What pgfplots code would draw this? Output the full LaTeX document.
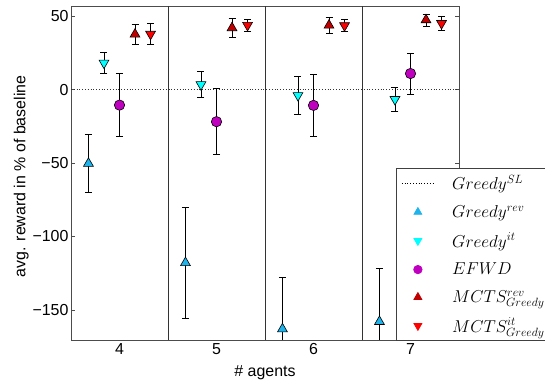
\documentclass[border=0pt]{standalone}
\usepackage{fontspec}
\setmainfont{Liberation Sans}
\usepackage{pgfplots}
\pgfplotsset{compat=1.18}
\definecolor{crev}{RGB}{30,180,235}
\definecolor{cit}{RGB}{0,255,255}
\definecolor{cefwd}{RGB}{191,0,191}
\definecolor{cmrev}{RGB}{192,0,0}
\definecolor{cmit}{RGB}{255,0,0}
\begin{document}
\begin{tikzpicture}
\path[use as bounding box] (0,0) rectangle (545bp,383bp);
\begin{axis}[
  at={(71bp,43bp)}, anchor=south west,
  scale only axis, width=388bp, height=334bp,
  xmin=-0.5, xmax=3.5, ymin=-170.5, ymax=57,
  xtick={0,1,2,3}, xticklabels={4,5,6,7},
  ytick={-150,-100,-50,0,50}, yticklabels={−150,−100,−50,0,50},
  major x tick style={draw=none},
  tick align=inside, ytick pos=both, yticklabel pos=left,
  major tick length=4bp,
  axis line style={black!70, line width=0.8pt},
  tick style={black!70, line width=0.6pt},
  tick label style={font=\fontsize{16}{18}\selectfont},
  yticklabel style={xshift=1bp},
  label style={font=\fontsize{16}{18}\selectfont},
  ylabel={avg. reward in \% of baseline},
  ylabel style={at={(axis description cs:-0.128,0.49)}, anchor=center},
  xlabel={\# agents},
  xlabel style={at={(axis description cs:0.5,-0.097)}, anchor=center},
  legend image code/.code={\draw[mark repeat=2,mark phase=2,#1] plot coordinates {(0bp,0bp) (16bp,0bp) (32bp,0bp)};},
  legend cell align=left,
  legend style={at={(axis description cs:0.838,-0.003)}, anchor=south west,
    draw=black!75, fill=white, line width=0.8pt,
    font=\fontsize{16.5}{19}\selectfont, row sep=10.3bp,
    inner xsep=5bp, inner ysep=5bp,
    /tikz/every odd column/.append style={column sep=16bp}},
  every axis plot/.append style={line width=0.8pt},
]
% separators
\addplot[forget plot, black!80, line width=0.8pt] coordinates {(0.5,-170.5) (0.5,57)};
\addplot[forget plot, black!80, line width=0.8pt] coordinates {(1.5,-170.5) (1.5,57)};
\addplot[forget plot, black!80, line width=0.8pt] coordinates {(2.5,-170.5) (2.5,57)};
% baseline
\addplot[forget plot, black!80, dotted, line width=0.7pt] coordinates {(-0.5,0) (3.5,0)};
% Greedy rev
\addplot[forget plot, only marks, mark=triangle*, mark size=5.7bp,
  mark options={fill=crev, draw=black, line width=0.6pt},
  error bars/.cd, y dir=both, y explicit,
  error bar style={black, line width=0.8pt},
  error mark options={black, mark size=3.5bp, line width=0.8pt, rotate=90}]
  coordinates {(-0.32,-50.25) +- (0,19.75) (0.68,-117.9) +- (0,37.6) (1.68,-163) +- (0,35) (2.68,-158) +- (0,36)};
% Greedy it
\addplot[forget plot, only marks, mark=triangle*, mark size=5.7bp,
  mark options={fill=cit, draw=black, line width=0.6pt, rotate=180},
  error bars/.cd, y dir=both, y explicit,
  error bar style={black, line width=0.8pt},
  error mark options={black, mark size=3.5bp, line width=0.8pt, rotate=90}]
  coordinates {(-0.16,18.2) +- (0,7.2) (0.84,3.5) +- (0,9) (1.84,-3.9) +- (0,12.9) (2.84,-6.6) +- (0,8.4)};
% EFWD
\addplot[forget plot, only marks, mark=*, mark size=5.2bp,
  mark options={fill=cefwd, draw=black, line width=0.6pt},
  error bars/.cd, y dir=both, y explicit,
  error bar style={black, line width=0.8pt},
  error mark options={black, mark size=3.5bp, line width=0.8pt, rotate=90}]
  coordinates {(0,-10.5) +- (0,21.5) (1,-21.8) +- (0,22.5) (2,-10.7) +- (0,21) (3,11) +- (0,14)};
% MCTS rev
\addplot[forget plot, only marks, mark=triangle*, mark size=5.7bp,
  mark options={fill=cmrev, draw=black, line width=0.6pt},
  error bars/.cd, y dir=both, y explicit,
  error bar style={black, line width=0.8pt},
  error mark options={black, mark size=3.5bp, line width=0.8pt, rotate=90}]
  coordinates {(0.16,37.75) +- (0,6.75) (1.16,42.1) +- (0,6.5) (2.16,43.85) +- (0,5.2) (3.16,47.5) +- (0,4.1)};
% MCTS it
\addplot[forget plot, only marks, mark=triangle*, mark size=5.7bp,
  mark options={fill=cmit, draw=black, line width=0.6pt, rotate=180},
  error bars/.cd, y dir=both, y explicit,
  error bar style={black, line width=0.8pt},
  error mark options={black, mark size=3.5bp, line width=0.8pt, rotate=90}]
  coordinates {(0.32,37.85) +- (0,7.15) (1.32,43.9) +- (0,3.9) (2.32,43.65) +- (0,3.9) (3.32,45.15) +- (0,4.5)};
% legend
\addlegendimage{black, dotted, line width=0.7pt}
\addlegendentry{$Greedy^{SL}$}
\addlegendimage{only marks, mark=triangle*, mark size=4.5bp, mark options={fill=crev, draw=crev}}
\addlegendentry{$Greedy^{rev}$}
\addlegendimage{only marks, mark=triangle*, mark size=4.5bp, mark options={fill=cit, draw=cit, rotate=180}}
\addlegendentry{$Greedy^{it}$}
\addlegendimage{only marks, mark=*, mark size=4.2bp, mark options={fill=cefwd, draw=cefwd}}
\addlegendentry{$EFWD$}
\addlegendimage{only marks, mark=triangle*, mark size=4.5bp, mark options={fill=cmrev, draw=cmrev}}
\addlegendentry{$MCTS^{rev}_{Greedy}$}
\addlegendimage{only marks, mark=triangle*, mark size=4.5bp, mark options={fill=cmit, draw=cmit, rotate=180}}
\addlegendentry{$MCTS^{it}_{Greedy}$}
\end{axis}
\end{tikzpicture}
\end{document}
